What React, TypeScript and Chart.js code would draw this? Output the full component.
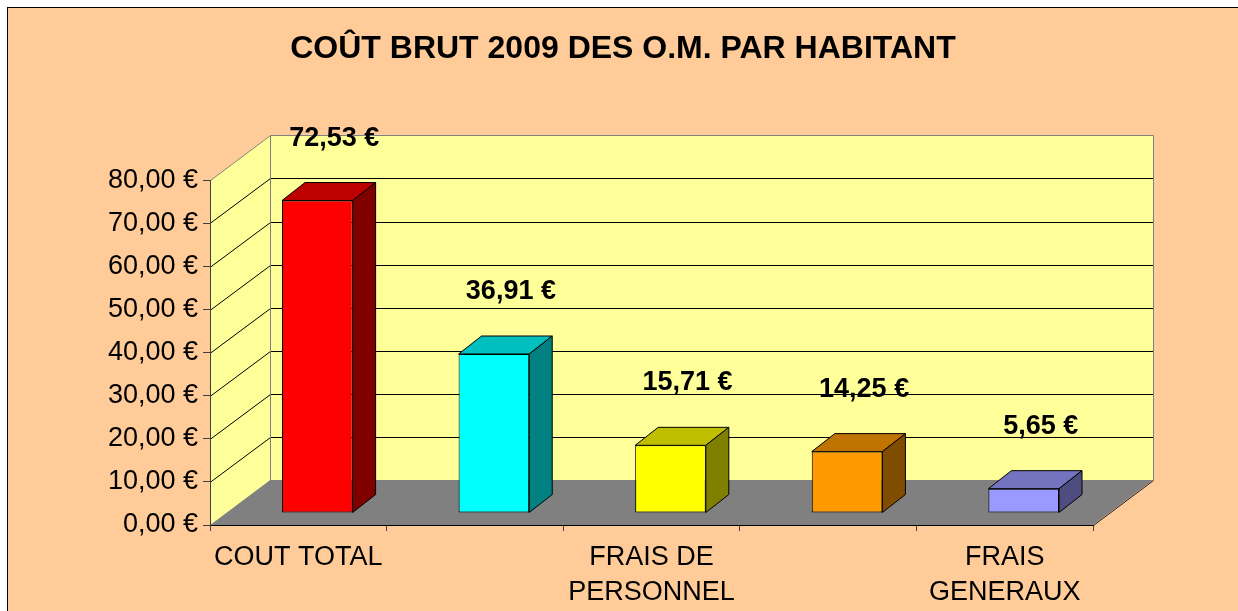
import React, { useEffect, useRef } from "react";
import { Chart, registerables } from "chart.js";

Chart.register(...registerables);

// ---------- data ----------
const TITLE = "COÛT BRUT 2009 DES O.M. PAR HABITANT";
const categories: (string | string[])[] = [
  "COUT TOTAL",
  "",
  ["FRAIS DE", "PERSONNEL"],
  "",
  ["FRAIS", "GENERAUX"],
];
const values = [72.53, 36.91, 15.71, 14.25, 5.65];
const Y_MIN = 0;
const Y_MAX = 80;
const Y_STEP = 10;

// ---------- style ----------
const frontColors = ["#FF0000", "#00FFFF", "#FFFF00", "#FF9900", "#9999FF"];
const topColors = ["#BF0000", "#00BFBF", "#BFBF00", "#BF7300", "#7373BF"];
const sideColors = ["#800000", "#008080", "#808000", "#804D00", "#4D4D80"];
const FONT = '"Liberation Sans", Arial, sans-serif';
const WALL_DX = 60;
const WALL_DY = -45;
const BAR_SHIFT_X = 19;
const BAR_SHIFT_Y = -12;
const BAR_DX = 23;
const BAR_DY = -18;

const fmt = (v: number) => v.toFixed(2).replace(".", ",") + " €";

const h = (v: number) => Math.round(v) + 0.5;

const threeD = {
  id: "threeD",
  beforeDraw(chart: any) {
    const { ctx, chartArea: a, scales } = chart;
    const y = scales.y;
    const L = a.left;
    const R = a.right;
    const T = y.getPixelForValue(Y_MAX);
    const B = y.getPixelForValue(Y_MIN);
    const dx = WALL_DX;
    const dy = WALL_DY;
    ctx.save();
    // floor
    ctx.fillStyle = "#808080";
    ctx.beginPath();
    ctx.moveTo(L, B);
    ctx.lineTo(L + dx, B + dy);
    ctx.lineTo(R + dx, B + dy);
    ctx.lineTo(R, B);
    ctx.closePath();
    ctx.fill();
    // back wall
    ctx.fillStyle = "#FFFF99";
    ctx.fillRect(L + dx, T + dy, R - L, B - T);
    // left wall
    ctx.beginPath();
    ctx.moveTo(L, T);
    ctx.lineTo(L + dx, T + dy);
    ctx.lineTo(L + dx, B + dy);
    ctx.lineTo(L, B);
    ctx.closePath();
    ctx.fill();
    // grid lines
    ctx.strokeStyle = "#000000";
    ctx.lineWidth = 1;
    for (let v = Y_MIN + Y_STEP; v < Y_MAX; v += Y_STEP) {
      const py = y.getPixelForValue(v);
      ctx.beginPath();
      ctx.moveTo(L, h(py));
      ctx.lineTo(h(L + dx), h(py + dy));
      ctx.lineTo(h(R + dx), h(py + dy));
      ctx.stroke();
    }
    // wall outlines
    ctx.strokeStyle = "#808080";
    ctx.beginPath();
    ctx.moveTo(h(L), h(T));
    ctx.lineTo(h(L + dx), h(T + dy));
    ctx.lineTo(h(R + dx), h(T + dy));
    ctx.lineTo(h(R + dx), h(B + dy));
    ctx.moveTo(h(L + dx), h(T + dy));
    ctx.lineTo(h(L + dx), h(B + dy));
    ctx.stroke();
    // floor right edge
    ctx.strokeStyle = "#202020";
    ctx.beginPath();
    ctx.moveTo(h(R), h(B));
    ctx.lineTo(h(R + dx), h(B + dy));
    ctx.stroke();
    ctx.restore();
  },
  beforeDatasetsDraw(chart: any) {
    chart.ctx.save();
    chart.ctx.translate(BAR_SHIFT_X, BAR_SHIFT_Y);
  },
  afterDatasetDraw(chart: any, args: any) {
    const ctx = chart.ctx;
    const meta = args.meta;
    meta.data.forEach((el: any, i: number) => {
      const { x, y, base, width } = el.getProps(["x", "y", "base", "width"], true);
      const l = x - width / 2;
      const r = x + width / 2;
      ctx.save();
      ctx.lineWidth = 1;
      ctx.strokeStyle = "#000000";
      ctx.lineJoin = "round";
      // top face
      ctx.fillStyle = topColors[i];
      ctx.beginPath();
      ctx.moveTo(l, y);
      ctx.lineTo(l + BAR_DX, y + BAR_DY);
      ctx.lineTo(r + BAR_DX, y + BAR_DY);
      ctx.lineTo(r, y);
      ctx.closePath();
      ctx.fill();
      ctx.stroke();
      // side face
      ctx.fillStyle = sideColors[i];
      ctx.beginPath();
      ctx.moveTo(r, y);
      ctx.lineTo(r + BAR_DX, y + BAR_DY);
      ctx.lineTo(r + BAR_DX, base + BAR_DY);
      ctx.lineTo(r, base);
      ctx.closePath();
      ctx.fill();
      ctx.stroke();
      ctx.restore();
    });
  },
  afterDatasetsDraw(chart: any) {
    const ctx = chart.ctx;
    ctx.restore();
    const meta = chart.getDatasetMeta(0);
    ctx.save();
    ctx.fillStyle = "#000000";
    ctx.font = `bold 27px ${FONT}`;
    ctx.textAlign = "center";
    ctx.textBaseline = "alphabetic";
    meta.data.forEach((el: any, i: number) => {
      const { x, y } = el.getProps(["x", "y"], true);
      ctx.fillText(fmt(values[i]), x + BAR_SHIFT_X + 17, y + BAR_SHIFT_Y - 55);
    });
    ctx.restore();
  },
};

export default function App() {
  const ref = useRef<HTMLCanvasElement | null>(null);
  useEffect(() => {
    document.documentElement.style.overflow = "hidden";
    document.body.style.overflow = "hidden";
    const canvas = ref.current;
    if (!canvas) return;
    const chart = new Chart(canvas, {
      type: "bar",
      data: {
        labels: categories,
        datasets: [
          {
            data: values,
            backgroundColor: frontColors,
            borderColor: "#000000",
            borderWidth: 1,
            borderSkipped: false,
            categoryPercentage: 1,
            barPercentage: 0.4,
          },
        ],
      },
      options: {
        responsive: false,
        animation: false,
        events: [],
        layout: { padding: 0 },
        plugins: {
          legend: { display: false },
          tooltip: { enabled: false },
          title: {
            display: true,
            text: TITLE,
            color: "#000000",
            font: { family: FONT, size: 32, weight: "bold", lineHeight: 1.2 },
            padding: { top: 22, bottom: 112 },
          },
        },
        scales: {
          x: {
            grid: {
              display: true,
              drawOnChartArea: false,
              drawTicks: true,
              tickLength: 6,
              color: "#404040",
              offset: true,
            },
            border: { display: true, color: "#000000", width: 1 },
            ticks: {
              autoSkip: false,
              maxRotation: 0,
              minRotation: 0,
              padding: 9,
              color: "#000000",
              font: { family: FONT, size: 27, lineHeight: 1.3 },
            },
            afterFit: (s: any) => {
              s.height = 86;
            },
          },
          y: {
            min: Y_MIN,
            max: Y_MAX,
            grid: {
              display: true,
              drawOnChartArea: false,
              drawTicks: true,
              tickLength: 7,
              color: "#404040",
            },
            border: { display: true, color: "#404040", width: 1 },
            ticks: {
              stepSize: Y_STEP,
              padding: 5,
              color: "#000000",
              font: { family: FONT, size: 27 },
              callback: (v: any) => fmt(Number(v)),
            },
            afterFit: (s: any) => {
              s.width = 202;
            },
          },
          yRight: {
            position: "right",
            min: Y_MIN,
            max: Y_MAX,
            display: true,
            grid: { display: false, drawOnChartArea: false, drawTicks: false },
            border: { display: false },
            ticks: { display: false },
            afterFit: (s: any) => {
              s.width = 145;
            },
          },
        },
      },
      plugins: [threeD],
    });
    return () => chart.destroy();
  }, []);

  return (
    <div
      style={{
        position: "fixed",
        left: 7,
        top: 7,
        borderTop: "1px solid #000",
        borderLeft: "1px solid #000",
        background: "#FFCC99",
        width: 1240,
        height: 620,
        overflow: "hidden",
      }}
    >
      <canvas ref={ref} width={1230} height={603} style={{ display: "block" }} />
    </div>
  );
}
